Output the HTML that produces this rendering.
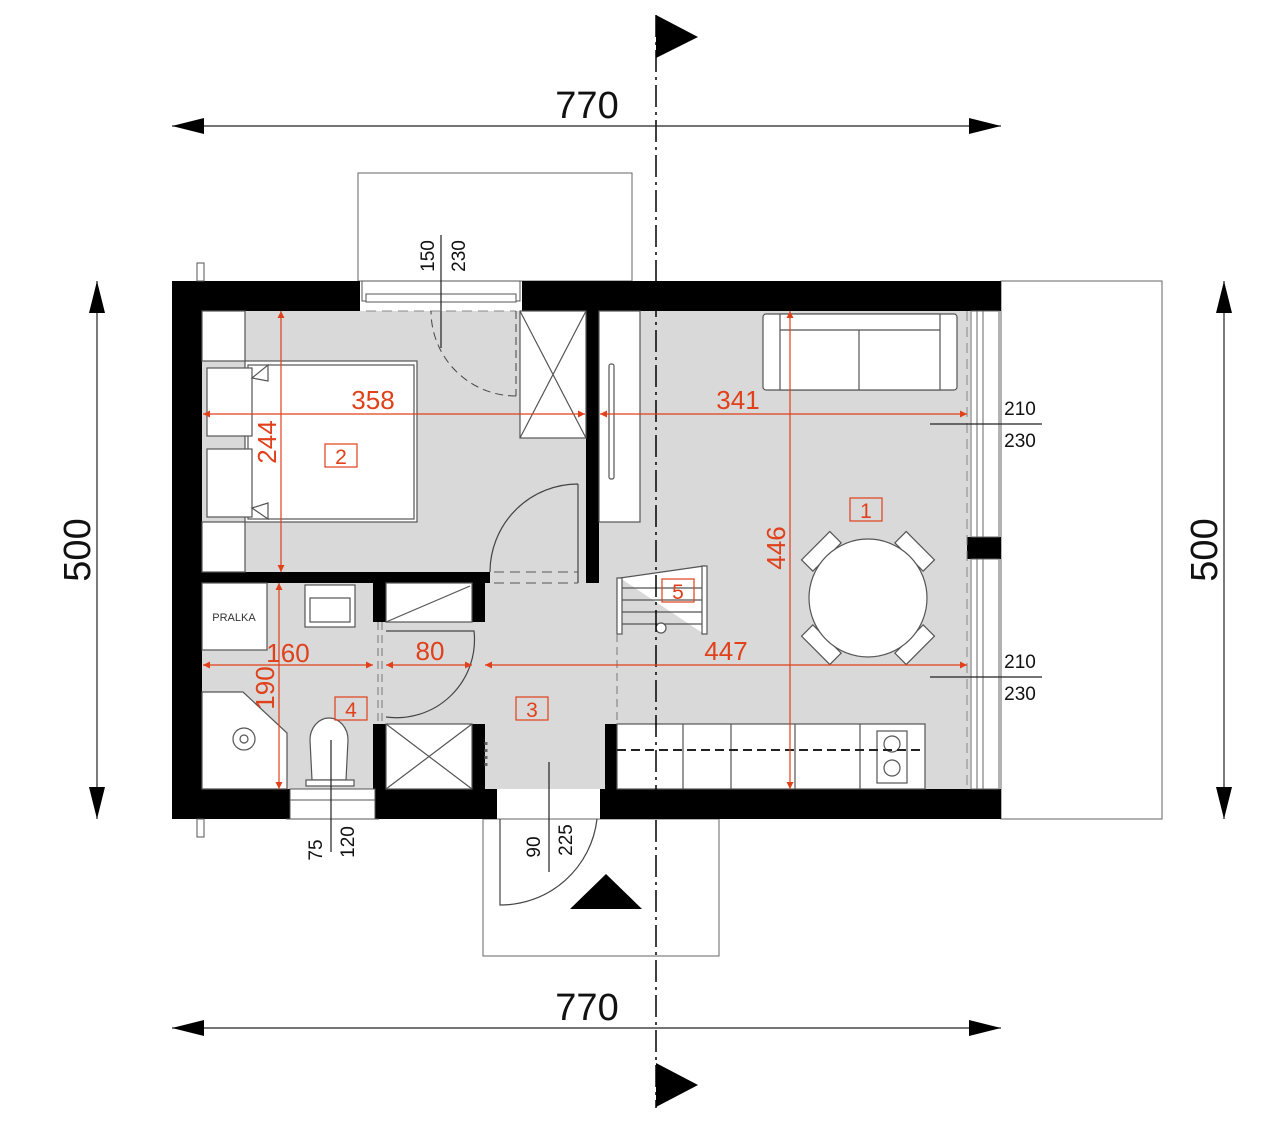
<!DOCTYPE html>
<html><head><meta charset="utf-8"><style>
html,body{margin:0;padding:0;background:#fff}
svg{display:block}
text{font-family:"Liberation Sans",sans-serif}
.r{fill:#e0401a;font-size:26px}
.k{fill:#111;font-size:19px}
</style></head><body>
<svg width="1280" height="1127" viewBox="0 0 1280 1127" xmlns="http://www.w3.org/2000/svg">
<defs>
<marker id="ar" viewBox="0 0 10 10" refX="10" refY="5" markerWidth="9" markerHeight="7" markerUnits="userSpaceOnUse" orient="auto-start-reverse"><path d="M0,0 L10,5 L0,10z" fill="#e0401a"/></marker>
</defs>
<!-- outer boxes -->
<g fill="#fff" stroke="#666" stroke-width="1">
<rect x="358" y="173" width="274" height="108"/>
<rect x="483" y="819" width="236" height="137"/>
<rect x="1001" y="281" width="161" height="538"/>
</g>
<rect x="202" y="311" width="768" height="478" fill="#d9d9d9"/>
<g fill="#000">
<rect x="172" y="281" width="188" height="30"/>
<rect x="522" y="281" width="479" height="30"/>
<rect x="172" y="281" width="30" height="538"/>
<rect x="172" y="789" width="118" height="30"/>
<rect x="375" y="789" width="122" height="30"/>
<rect x="600" y="789" width="401" height="30"/>
<rect x="967" y="537" width="34" height="22"/>
<rect x="586" y="311" width="13" height="272"/>
<rect x="202" y="572" width="288" height="11"/>
<rect x="373" y="583" width="13" height="39"/>
<rect x="472" y="583" width="13" height="39"/>
<rect x="373" y="724" width="13" height="65"/>
<rect x="472" y="724" width="13" height="65"/>
<rect x="605" y="724" width="12" height="65"/>
</g>
<g stroke="#555" fill="#fff"><rect x="197" y="263" width="7" height="18"/><rect x="197" y="819" width="7" height="18"/></g>
<g stroke="#666" fill="#fff" stroke-width="1">
<rect x="971" y="311" width="28" height="226"/>
<rect x="971" y="559" width="28" height="230"/>
<line x1="977" y1="311" x2="977" y2="537"/><line x1="983" y1="311" x2="983" y2="537"/>
<line x1="977" y1="559" x2="977" y2="789"/><line x1="983" y1="559" x2="983" y2="789"/>
</g>
<line x1="967" y1="311" x2="967" y2="789" stroke="#888" stroke-dasharray="10,6"/>
<g stroke="#555" fill="#fff">
<rect x="362" y="281" width="158" height="20"/>
<rect x="366" y="294" width="150" height="8"/>
</g>
<line x1="366" y1="311" x2="516" y2="311" stroke="#888" stroke-dasharray="10,6"/>
<path d="M516,311 L516,396 M516,396 A85,85 0 0 1 431,311" fill="none" stroke="#444" stroke-dasharray="8,5"/>
<g stroke="#555" fill="#fff"><rect x="290" y="789" width="85" height="30"/><line x1="290" y1="800" x2="375" y2="800"/><line x1="286" y1="819" x2="379" y2="819"/></g>
<g stroke="#555" fill="#fff" stroke-width="1.2">
<rect x="202" y="311" width="43" height="50"/>
<rect x="202" y="522" width="43" height="50"/>
<rect x="245" y="361" width="172" height="161"/>
<rect x="248" y="365" width="166" height="154"/>
<rect x="207" y="368" width="45" height="68"/>
<rect x="207" y="449" width="45" height="68"/>
<path d="M252,378 L268,365 L268,381z M252,508 L268,519 L268,503z"/>
<rect x="520" y="311" width="66" height="127"/>
<path d="M520,311 L586,438 M586,311 L520,438"/>
<rect x="599" y="311" width="41" height="211"/>
<rect x="609" y="364" width="5" height="115" rx="2"/>
<rect x="202" y="583" width="65" height="67"/>
<rect x="305" y="585" width="50" height="42"/>
<rect x="310" y="598" width="40" height="24"/>
<path d="M202,692 L243,692 L287,733 L287,789 L202,789z"/>
<circle cx="244" cy="739" r="11"/><circle cx="244" cy="739" r="4"/>
<path d="M312,780 L310,740 A19,22 0 0 1 348,740 L346,780z"/>
<rect x="306" y="780" width="48" height="6"/>
<rect x="386" y="583" width="86" height="39"/>
<line x1="386" y1="622" x2="470" y2="586"/>
<rect x="386" y="724" width="86" height="65"/>
<path d="M386,724 L472,789 M472,724 L386,789"/>
<path d="M620,578 L704,566 L704,634 M620,634 L620,578 M620,588 L704,588 M620,600 L704,600 M620,612 L704,612 M620,624 L704,624"/>
<rect x="617" y="578" width="5" height="56"/><rect x="702" y="566" width="5" height="68"/>
<circle cx="661" cy="628" r="5"/>
<rect x="763" y="314" width="194" height="76" rx="3"/>
<rect x="780" y="314" width="160" height="76"/>
<line x1="780" y1="330" x2="940" y2="330"/><line x1="859" y1="330" x2="859" y2="390"/>
<g transform="rotate(-45 868 598)"><rect x="848" y="524" width="40" height="16"/><rect x="848" y="656" width="40" height="16"/></g>
<g transform="rotate(45 868 598)"><rect x="848" y="524" width="40" height="16"/><rect x="848" y="656" width="40" height="16"/></g>
<circle cx="868" cy="598" r="59"/>
<rect x="617" y="724" width="308" height="65"/>
<path d="M683,724 L683,789 M731,724 L731,789 M795,724 L795,789 M860,724 L860,789"/>
<rect x="877" y="731" width="30" height="52"/>
<circle cx="892" cy="744" r="8"/><circle cx="892" cy="768" r="8"/>
</g>
<line x1="617" y1="750" x2="925" y2="750" stroke="#222" stroke-width="2" stroke-dasharray="9,5"/>
<g fill="none" stroke="#444" stroke-width="1.2">
<path d="M578,484 L578,583 M578,484 A88,88 0 0 0 490,572"/>
<path d="M386,717 A78,78 0 0 0 474,631 L386,631"/>
<path d="M500,819 L500,905 A97,97 0 0 0 597,819"/>
</g>
<path d="M494,572 L578,572 M494,583 L578,583" stroke="#555" stroke-dasharray="10,6"/>
<path d="M378,622 L378,724 M382,622 L382,724 M617,634 L617,724" stroke="#777" stroke-dasharray="8,5"/>
<line x1="486" y1="742" x2="486" y2="770" stroke="#666" stroke-width="3" stroke-dasharray="3,4"/>
<line x1="656" y1="15" x2="656" y2="1108" stroke="#000" stroke-width="1.5" stroke-dasharray="22,5,3,5"/>
<path d="M656,15 L698,37 L656,58z M656,1063 L698,1085 L656,1107z M570,909 L642,909 L606,874z" fill="#000"/>
<g stroke="#222" stroke-width="1.2">
<line x1="172" y1="126" x2="1001" y2="126"/>
<line x1="172" y1="1028" x2="1001" y2="1028"/>
<line x1="97" y1="281" x2="97" y2="819"/>
<line x1="1224" y1="281" x2="1224" y2="819"/>
<line x1="441" y1="235" x2="441" y2="348"/>
<line x1="331" y1="740" x2="331" y2="852"/>
<line x1="549" y1="762" x2="549" y2="872"/>
<line x1="930" y1="424" x2="1042" y2="424"/>
<line x1="930" y1="677" x2="1042" y2="677"/>
</g>
<g fill="#000">
<path d="M172,126 L204,118 L204,134z M1001,126 L969,118 L969,134z"/>
<path d="M172,1028 L204,1020 L204,1036z M1001,1028 L969,1020 L969,1036z"/>
<path d="M97,281 L89,313 L105,313z M97,819 L89,787 L105,787z"/>
<path d="M1224,281 L1216,313 L1232,313z M1224,819 L1216,787 L1232,787z"/>
</g>
<g fill="#111">
<text x="587" y="118" text-anchor="middle" font-size="38">770</text>
<text x="587" y="1020" text-anchor="middle" font-size="38">770</text>
<text transform="translate(90,550) rotate(-90)" text-anchor="middle" font-size="38">500</text>
<text transform="translate(1217,550) rotate(-90)" text-anchor="middle" font-size="38">500</text>
</g>
<text class="k" x="1020" y="415" text-anchor="middle">210</text>
<text class="k" x="1020" y="447" text-anchor="middle">230</text>
<text class="k" x="1020" y="668" text-anchor="middle">210</text>
<text class="k" x="1020" y="700" text-anchor="middle">230</text>
<text class="k" transform="translate(434,256) rotate(-90)" text-anchor="middle">150</text>
<text class="k" transform="translate(465,256) rotate(-90)" text-anchor="middle">230</text>
<text class="k" transform="translate(322,850) rotate(-90)" text-anchor="middle">75</text>
<text class="k" transform="translate(354,842) rotate(-90)" text-anchor="middle">120</text>
<text class="k" transform="translate(540,847) rotate(-90)" text-anchor="middle">90</text>
<text class="k" transform="translate(572,840) rotate(-90)" text-anchor="middle">225</text>
<text x="234" y="621" font-size="11" fill="#333" text-anchor="middle">PRALKA</text>
<g stroke="#e0401a" stroke-width="1.2">
<line x1="203" y1="414" x2="585" y2="414" marker-start="url(#ar)" marker-end="url(#ar)"/>
<line x1="600" y1="414" x2="967" y2="414" marker-start="url(#ar)" marker-end="url(#ar)"/>
<line x1="281" y1="311" x2="281" y2="572" marker-start="url(#ar)" marker-end="url(#ar)"/>
<line x1="790" y1="311" x2="790" y2="789" marker-start="url(#ar)" marker-end="url(#ar)"/>
<line x1="203" y1="665" x2="373" y2="665" marker-start="url(#ar)" marker-end="url(#ar)"/>
<line x1="386" y1="665" x2="472" y2="665" marker-start="url(#ar)" marker-end="url(#ar)"/>
<line x1="485" y1="665" x2="967" y2="665" marker-start="url(#ar)" marker-end="url(#ar)"/>
<line x1="279" y1="583" x2="279" y2="789" marker-start="url(#ar)" marker-end="url(#ar)"/>
</g>
<text class="r" x="373" y="409" text-anchor="middle">358</text>
<text class="r" x="738" y="409" text-anchor="middle">341</text>
<text class="r" x="726" y="660" text-anchor="middle">447</text>
<text class="r" x="288" y="662" text-anchor="middle">160</text>
<text class="r" x="430" y="660" text-anchor="middle">80</text>
<text class="r" transform="translate(276,442) rotate(-90)" text-anchor="middle">244</text>
<text class="r" transform="translate(785,548) rotate(-90)" text-anchor="middle">446</text>
<text class="r" transform="translate(274,688) rotate(-90)" text-anchor="middle">190</text>
<g fill="none" stroke="#e0401a" stroke-width="1.2">
<rect x="325" y="444" width="32" height="23"/>
<rect x="850" y="498" width="32" height="23"/>
<rect x="662" y="579" width="32" height="23"/>
<rect x="335" y="697" width="32" height="23"/>
<rect x="516" y="697" width="32" height="23"/>
</g>
<g fill="#e0401a" text-anchor="middle" font-size="21">
<text x="341" y="464">2</text>
<text x="866" y="518">1</text>
<text x="678" y="599">5</text>
<text x="351" y="717">4</text>
<text x="532" y="717">3</text>
</g>
</svg>
</body></html>
